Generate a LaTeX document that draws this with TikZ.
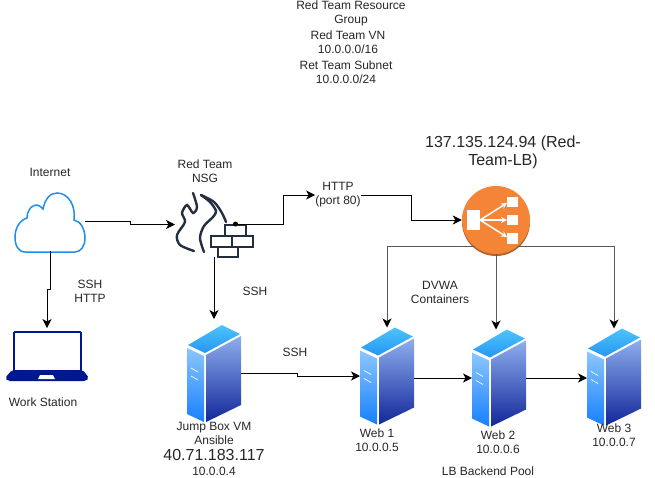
\documentclass[tikz,border=0pt]{standalone}
\usepackage{fontspec}
\setmainfont{Liberation Sans}
\usepackage{tikz}
\usetikzlibrary{arrows.meta}

\definecolor{cloudblue}{HTML}{1E8FEF}
\definecolor{fwdark}{HTML}{232F3E}
\definecolor{lbdark}{HTML}{B4622B}
\definecolor{lborange}{HTML}{F58536}
\definecolor{navy}{HTML}{00188F}
\definecolor{linegray}{HTML}{5A5A5A}
\definecolor{srvtopa}{HTML}{4CC4FC}
\definecolor{srvtopb}{HTML}{2696F2}
\definecolor{srvlefta}{HTML}{8CC6FF}
\definecolor{srvleftb}{HTML}{1780FF}
\definecolor{srvrighta}{HTML}{8EAEEE}
\definecolor{srvrightb}{HTML}{12279A}

\tikzset{
server/.pic={
\shade[top color=srvtopa,bottom color=srvtopb] (1,20) -- (35,0) -- (53,9) -- (18,28) -- cycle;
\shade[top color=srvlefta,bottom color=srvleftb] (0,23) -- (17,31) -- (17,97) -- (0,89) -- cycle;
\shade[top color=srvrighta,bottom color=srvrightb] (19,30) -- (54,11) -- (54,80) -- (19,97) -- cycle;
\draw[white,line width=.7pt] (4,43) -- (11,47) (4,51) -- (11,55);
},
lbicon/.pic={
\fill[white] (-29,-10) rectangle (-16,10);
\fill[white] (11,-23) rectangle (22,-13);
\fill[white] (11,-5) rectangle (22,5);
\fill[white] (11,13) rectangle (22,24);
\draw[white,line width=1.5pt,-{Stealth[length=6pt,width=6pt]}] (-16,0) -- (11,-17);
\draw[white,line width=1.5pt,-{Stealth[length=6pt,width=6pt]}] (-16,0) -- (11,0);
\draw[white,line width=1.5pt,-{Stealth[length=6pt,width=6pt]}] (-16,0) -- (11,17);
}
}

\begin{document}
\begin{tikzpicture}[x=1pt,y=-1pt]
\tikzstyle{lbl}=[inner sep=0pt,align=center,text=black!85,font=\fontsize{12}{14}\selectfont]
\tikzstyle{biglbl}=[lbl,font=\fontsize{16}{18}\selectfont]
\tikzstyle{iconbox}=[inner sep=0pt,outer sep=0pt]
\tikzstyle{conn}=[draw,line width=.9pt,-{Stealth[length=9pt,width=9pt,inset=2.5pt]}]
\tikzstyle{lbconn}=[conn,draw=linegray,line width=1pt,-{Stealth[length=9pt,width=9pt,inset=2.5pt,color=black]}]
\tikzstyle{brick}=[draw=fwdark,fill=white,line width=2pt]
\useasboundingbox (0,0) rectangle (655,477);

% icons
\draw[cloudblue,line width=1.5pt,fill=white] (25,252) .. controls (18,252) and (15,245) .. (15,237) .. controls (15,228) and (20,220) .. (27,218) .. controls (27,208) and (36,200) .. (43,209) .. controls (45,199) and (50,193) .. (57,193) .. controls (68,193) and (76,205) .. (74,220) .. controls (81,221) and (85,230) .. (85,238) .. controls (85,246) and (81,252) .. (75,252) -- cycle;
\node[iconbox,minimum width=70pt,minimum height=59pt] (cloud) at (50,221) {};

\draw[navy,line width=1.8pt,rounded corners=1pt,fill=white] (14,332) rectangle (81,372);
\fill[navy,rounded corners=2pt] (12,370) -- (83,370) -- (89,378) -- (86,381) -- (8,381) -- (5,378) -- cycle;
\fill[white] (40,375) -- (53,375) -- (55,379) -- (38,379) -- cycle;
\node[iconbox,minimum width=82pt,minimum height=50pt] (laptop) at (47,353) {};

\draw[fwdark,line width=2.4pt,line cap=round] plot[smooth] coordinates {(194,251) (180,245) (177,235) (185,222) (182,213) (187,205) (193,213) (197,207) (193,193)};
\draw[fwdark,line width=2.4pt,line cap=round] plot[smooth] coordinates {(204,252) (200,238) (204,226) (213,217) (216,211) (210,202) (201,195)};
\draw[fwdark,line width=2.4pt,line cap=round] plot[smooth] coordinates {(201,195) (214,202) (222,213) (226,222)};
\draw[brick] (225,225) rectangle (246,236);
\draw[brick] (211,236) rectangle (232,247);
\draw[brick] (232,236) rectangle (253,247);
\draw[brick] (218,247) rectangle (238,257);
\node[iconbox,minimum width=76pt,minimum height=65pt] (nsg) at (213,224.5) {};
\coordinate (nsgout) at (235.5,224);
\fill (nsgout) circle (2.5pt);

\fill[lbdark] (496,222) circle (34pt);
\node[circle,fill=lborange,inner sep=0pt,minimum size=68pt] (lb) at (496,220) {};
\pic at (lb.center) {lbicon};

\node[iconbox,minimum width=54pt,minimum height=97pt] (jump) at (214,373.5) {};
\node[iconbox,minimum width=54pt,minimum height=97pt] (web1) at (387,376) {};
\node[iconbox,minimum width=54pt,minimum height=97pt] (web2) at (499,378) {};
\node[iconbox,minimum width=54pt,minimum height=97pt] (web3) at (614,377) {};
\pic at (jump.north west) {server};
\pic at (web1.north west) {server};
\pic at (web2.north west) {server};
\pic at (web3.north west) {server};

% texts
\node[lbl] (rg) at (351,13) {Red Team Resource\\Group};
\node[lbl] (vn) at (348,42) {Red Team VN\\10.0.0.0/16};
\node[lbl] (subnet) at (346,72) {Ret Team Subnet\\10.0.0.0/24};
\node[biglbl] (lbname) at (503,152) {137.135.124.94 (Red-\\Team-LB)};
\node[lbl] (inet) at (50,172) {Internet};
\node[lbl] (nsgname) at (205,171) {Red Team\\NSG};
\node[lbl] (sshhttp) at (90,291) {SSH\\HTTP};
\node[lbl] (sshnsg) at (255,291) {SSH};
\node[lbl,fill=white] (http) at (338,195) {HTTP\\(port 80)};
\node[lbl] (sshjump) at (295,352) {SSH};
\node[lbl] (dvwa) at (440,292) {DVWA\\Containers};
\node[lbl] (ws) at (43,402) {Work Station};
\node[lbl] (jumpname) at (214,433.5) {Jump Box VM\\Ansible};
\node[biglbl] (jumpip) at (214,455) {40.71.183.117};
\node[lbl] (jumpint) at (214,471) {10.0.0.4};
\node[lbl] (web1name) at (377,440) {Web 1\\10.0.0.5};
\node[lbl] (web2name) at (498,442) {Web 2\\10.0.0.6};
\node[lbl] (web3name) at (614,435) {Web 3\\10.0.0.7};
\node[lbl] (pool) at (488,471) {LB Backend Pool};

% connectors
\path[conn] (cloud.east) -- ++(45,0) |- (nsg.west);
\path[conn] (cloud.south) -- ++(0,39) -| (laptop.north);
\path[conn] (nsg.south) ++(1,0) -- ++(0,62);
\path[conn] (nsgout) -- ++(47.5,0) |- (http.west);
\path[conn] (http.east) -- ++(51,0) |- (lb.west);
\path[conn] (jump.east) -- ++(56,0) |- (web1.west);
\path[conn] (web1.east |- web2.west) -- (web2.west);
\path[conn] (web2.east) -- (web2.east -| web3.west);
\path[lbconn] (lb.232) -| (web1.north);
\path[lbconn] (lb.south) -- (lb.south |- web2.north);
\path[lbconn] (lb.308) -| (web3.north);
\end{tikzpicture}
\end{document}
